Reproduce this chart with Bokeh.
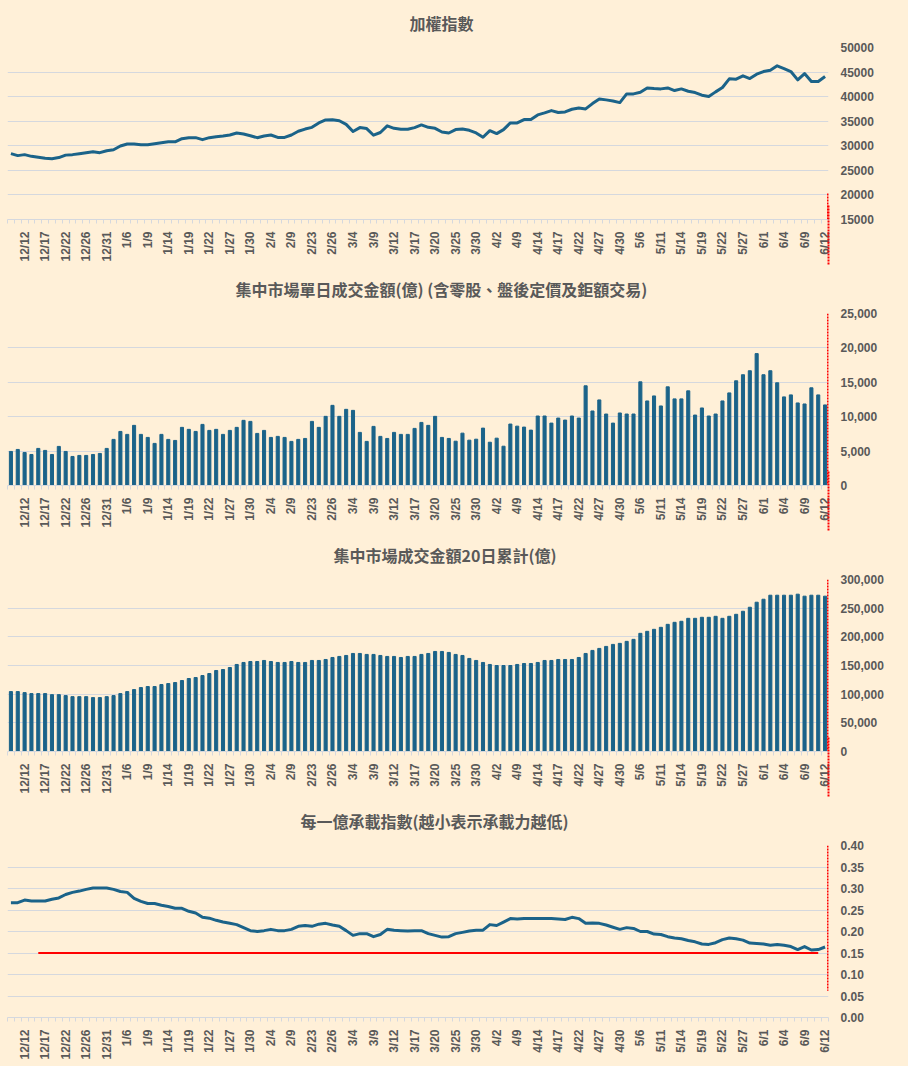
import numpy as np
from bokeh.plotting import figure
from bokeh.layouts import column
from bokeh.models import (Range1d, FixedTicker, SingleIntervalTicker, NumeralTickFormatter,
                          LinearAxis, Title)
from bokeh.embed import file_html
from bokeh.resources import INLINE

# ---------------- data ----------------
dates = [
    "12/10", "12/11", "12/12", "12/15", "12/16", "12/17", "12/18", "12/19", "12/22", "12/23",
    "12/24", "12/26", "12/29", "12/30", "12/31",
    "1/2", "1/5", "1/6", "1/7", "1/8", "1/9", "1/12", "1/13", "1/14", "1/15", "1/16", "1/19",
    "1/20", "1/21", "1/22", "1/23", "1/26", "1/27", "1/28", "1/29", "1/30",
    "2/2", "2/3", "2/4", "2/5", "2/6", "2/9", "2/10", "2/11", "2/23", "2/24", "2/25", "2/26",
    "3/2", "3/3", "3/4", "3/5", "3/6", "3/9", "3/10", "3/11", "3/12", "3/13", "3/16", "3/17",
    "3/18", "3/19", "3/20", "3/23", "3/24", "3/25", "3/26", "3/27", "3/30", "3/31",
    "4/1", "4/2", "4/7", "4/8", "4/9", "4/10", "4/13", "4/14", "4/15", "4/16", "4/17", "4/20",
    "4/21", "4/22", "4/23", "4/24", "4/27", "4/28", "4/29", "4/30",
    "5/4", "5/5", "5/6", "5/7", "5/8", "5/11", "5/12", "5/13", "5/14", "5/15", "5/18", "5/19",
    "5/20", "5/21", "5/22", "5/25", "5/26", "5/27", "5/28", "5/29",
    "6/1", "6/2", "6/3", "6/4", "6/5", "6/8", "6/9", "6/10", "6/11", "6/12",
]

taiex = [
    28400, 28000, 28200, 27850, 27650, 27450, 27380, 27600, 28100, 28200,
    28400, 28600, 28800, 28600, 29000, 29200, 29950, 30350, 30350, 30200,
    30200, 30400, 30600, 30800, 30800, 31450, 31650, 31650, 31250, 31650,
    31850, 32000, 32200, 32600, 32400, 32050, 31650, 32000, 32200, 31700,
    31700, 32200, 32950, 33400, 33750, 34650, 35250, 35300, 35100, 34350,
    32900, 33700, 33500, 32150, 32700, 34050, 33550, 33350, 33350, 33700,
    34250, 33750, 33550, 32800, 32600, 33300, 33420, 33150, 32610, 31730,
    33080, 32480, 33290, 34650, 34650, 35330, 35330, 36280, 36690, 37160,
    36760, 36890, 37430, 37700, 37500, 38590, 39540, 39340, 39130, 38790,
    40560, 40560, 40900, 41780, 41650, 41580, 41780, 41240, 41580, 41100,
    40830, 40290, 40020, 40970, 41850, 43620, 43550, 44230, 43680, 44570,
    45110, 45380, 46270, 45720, 45110, 43410, 44700, 43070, 43070, 44090,
]

daily_turnover = [
    4950, 5240, 4800, 4510, 5390, 5100, 4510, 5680, 4950, 4220,
    4370, 4370, 4510, 4660, 5390, 6700, 7860, 7430, 8740, 7430,
    6990, 6120, 7430, 6700, 6550, 8450, 8160, 7860, 8880, 8010,
    8160, 7430, 8010, 8450, 9470, 9320, 7570, 8010, 6990, 7140,
    6990, 6410, 6700, 6840, 9320, 8450, 10050, 11650, 10050, 11070,
    10920, 7720, 6410, 8590, 7140, 6840, 7720, 7430, 7430, 8300,
    9170, 8740, 10050, 6990, 6840, 6440, 7610, 6590, 6730, 8340,
    6290, 6880, 5710, 8930, 8630, 8490, 8050, 10100, 10100, 9070,
    9800, 9510, 10100, 9800, 14490, 10830, 12440, 10390, 9070, 10540,
    10390, 10390, 15070, 12290, 13020, 11560, 14340, 12590, 12590, 13760,
    10240, 11270, 10100, 10390, 12290, 13460, 15220, 16100, 16680, 19170,
    16100, 16680, 14930, 12880, 13170, 12000, 11850, 14200, 13170, 11710,
]

turnover_20d = [
    104500, 104500, 102700, 101000, 101000, 101000, 99200, 99200, 97500, 95700,
    95700, 95700, 94000, 94000, 95700, 97500, 101000, 104500, 108000, 111500,
    113300, 113300, 116800, 118500, 120300, 123800, 127300, 129000, 132500, 136000,
    141300, 143000, 146500, 151800, 155300, 157000, 157000, 158800, 157000, 155300,
    155300, 157000, 155300, 155300, 158800, 158800, 160500, 164000, 165800, 167500,
    171000, 171000, 169300, 169300, 167500, 165800, 165800, 164000, 165800, 165800,
    169300, 171000, 174500, 174500, 172800, 169300, 167500, 162300, 158800, 155300,
    151800, 150000, 150000, 150000, 151800, 153500, 153500, 155300, 158800, 158800,
    160500, 160500, 160500, 164000, 171000, 176300, 179800, 183300, 186800, 188600,
    192100, 195600, 206100, 209600, 213100, 216600, 221800, 225300, 227100, 232300,
    232300, 234100, 234100, 235800, 232300, 235800, 239300, 244600, 251600, 260400,
    265600, 272600, 272600, 272600, 272600, 274400, 270900, 272600, 272600, 270900,
]

load_index = [
    0.267, 0.267, 0.273, 0.271, 0.271, 0.271, 0.275, 0.278, 0.286, 0.291,
    0.294, 0.298, 0.301, 0.301, 0.301, 0.298, 0.293, 0.291, 0.277, 0.270,
    0.265, 0.265, 0.261, 0.258, 0.254, 0.254, 0.247, 0.243, 0.233, 0.231,
    0.226, 0.222, 0.219, 0.216, 0.209, 0.202, 0.200, 0.202, 0.205, 0.202,
    0.202, 0.205, 0.212, 0.214, 0.212, 0.217, 0.219, 0.215, 0.212, 0.202,
    0.191, 0.195, 0.195, 0.188, 0.193, 0.205, 0.203, 0.202, 0.201, 0.202,
    0.202, 0.195, 0.191, 0.187, 0.188, 0.195, 0.198, 0.201, 0.203, 0.203,
    0.216, 0.214, 0.222, 0.230, 0.229, 0.230, 0.230, 0.230, 0.230, 0.230,
    0.229, 0.228, 0.233, 0.230, 0.219, 0.220, 0.219, 0.215, 0.210, 0.205,
    0.209, 0.207, 0.200, 0.200, 0.194, 0.193, 0.188, 0.185, 0.183, 0.179,
    0.176, 0.171, 0.170, 0.174, 0.181, 0.185, 0.183, 0.180, 0.173, 0.172,
    0.171, 0.168, 0.170, 0.168, 0.165, 0.158, 0.165, 0.157, 0.158, 0.164,
]

threshold_value = 0.15          # red reference level in the last panel
threshold_from = "12/16"
threshold_to = "6/11"
marker_top_level = 20300         # red dotted marker starts at this TAIEX level
marker_bottom_level = 0.062      # ... and ends at this level of the last panel

titles = [
    "加權指數",
    "集中市場單日成交金額(億) (含零股、盤後定價及鉅額交易)",
    "集中市場成交金額20日累計(億)",
    "每一億承載指數(越小表示承載力越低)",
]
title_offsets = [402, 228, 326, 293]

# ---------------- style ----------------
BG = "#FFF0D8"
BLUE = "#1B6389"
GRID = "#D5D8DE"
TXT = "#595959"
RED = "#FF0000"
MARK_DASH = "2 1"

n = len(dates)
idx = np.arange(n)
label_idx = list(range(2, n, 3))
marker_x = n - 0.5 - 0.07


def marker_axis(tick_in, tick_out):
    """An unlabeled axis whose single red dotted tick continues the marker
    line through the axis-label area below the frame."""
    return LinearAxis(ticker=FixedTicker(ticks=[marker_x], minor_ticks=[]),
                      major_label_overrides={marker_x: ""},
                      major_label_text_font_size="0px", major_label_standoff=0,
                      axis_line_color=None, minor_tick_line_color=None,
                      minor_tick_in=0, minor_tick_out=0,
                      major_tick_in=tick_in, major_tick_out=tick_out,
                      major_tick_line_color=RED, major_tick_line_width=2,
                      major_tick_line_dash=MARK_DASH)


def make_fig(k, y0, y1, interval, fmt, mark_below=False):
    p = figure(frame_width=821, frame_height=172,
               output_backend="svg", toolbar_location=None,
               x_range=Range1d(-0.5, n - 0.5), y_range=Range1d(y0, y1),
               y_axis_location="right",
               min_border_left=7, min_border_right=60,
               min_border_top=47, min_border_bottom=47,
               background_fill_color=BG, border_fill_color=BG,
               outline_line_color=None)
    p.title.text = ""
    p.title.standoff = 0
    p.title.text_font_size = "0px"

    # y axis (right)
    ya = p.right[0]
    ya.ticker = SingleIntervalTicker(interval=interval)
    ya.formatter = NumeralTickFormatter(format=fmt)
    ya.axis_line_color = None
    ya.major_tick_line_color = None
    ya.minor_tick_line_color = None
    ya.major_tick_out = 0
    ya.minor_tick_out = 0
    ya.major_label_standoff = 12
    ya.major_label_text_font = "Liberation Sans"
    ya.major_label_text_font_style = "bold"
    ya.major_label_text_font_size = "12px"
    ya.major_label_text_color = TXT

    # x axis (category axis with a label every 3rd day)
    xa = p.below[0]
    xa.ticker = FixedTicker(ticks=label_idx, minor_ticks=list(np.arange(n + 1) - 0.5))
    xa.major_label_overrides = {int(i): dates[i] for i in label_idx}
    xa.major_label_orientation = np.pi / 2
    xa.axis_line_color = GRID
    xa.major_tick_line_color = None
    xa.major_tick_out = 0
    xa.major_tick_in = 0
    xa.minor_tick_line_color = GRID
    xa.minor_tick_out = 4
    xa.minor_tick_in = 0
    xa.major_label_standoff = 8
    xa.major_label_text_font = "Liberation Sans"
    xa.major_label_text_font_style = "bold"
    xa.major_label_text_font_size = "12px"
    xa.major_label_text_color = TXT

    p.xgrid.grid_line_color = None
    p.ygrid.grid_line_color = GRID
    p.ygrid.grid_line_width = 1

    t = Title(text=titles[k], align="left", vertical_align="top",
              offset=title_offsets[k], standoff=21,
              text_font="Noto Sans CJK TC", text_font_size="16px",
              text_font_style="bold", text_color=TXT)
    p.add_layout(t, "above")
    if mark_below:
        p.add_layout(marker_axis(60, 0), "below")
    return p


def in_frame_marker(p, y_top, y_bottom):
    p.segment(x0=[marker_x], y0=[y_top], x1=[marker_x], y1=[y_bottom],
              line_color=RED, line_width=2, line_dash=MARK_DASH)


p1 = make_fig(0, 15000, 50000, 5000, "0", mark_below=True)
p1.line(idx, taiex, line_width=3, color=BLUE, line_join="round")
in_frame_marker(p1, marker_top_level, 15000)

p2 = make_fig(1, 0, 25000, 5000, "0,0", mark_below=True)
p2.vbar(x=idx, top=daily_turnover, width=0.45, color=BLUE)
in_frame_marker(p2, 25000, 0)

p3 = make_fig(2, 0, 300000, 50000, "0,0", mark_below=True)
p3.vbar(x=idx, top=turnover_20d, width=0.45, color=BLUE)
in_frame_marker(p3, 300000, 0)

p4 = make_fig(3, 0, 0.40, 0.05, "0.00")
p4.line(idx, load_index, line_width=3, color=BLUE, line_join="round")
t0, t1 = dates.index(threshold_from), dates.index(threshold_to)
p4.line([t0, t1], [threshold_value, threshold_value], line_width=2, color=RED)
in_frame_marker(p4, 0.40, marker_bottom_level)

layout = column(p1, p2, p3, p4, spacing=0, styles={"background-color": BG})

html = file_html(layout, INLINE)
html = html.replace("<head>", "<head><style>html, body { background-color: %s; }</style>" % BG, 1)
open("out.html", "w").write(html)
